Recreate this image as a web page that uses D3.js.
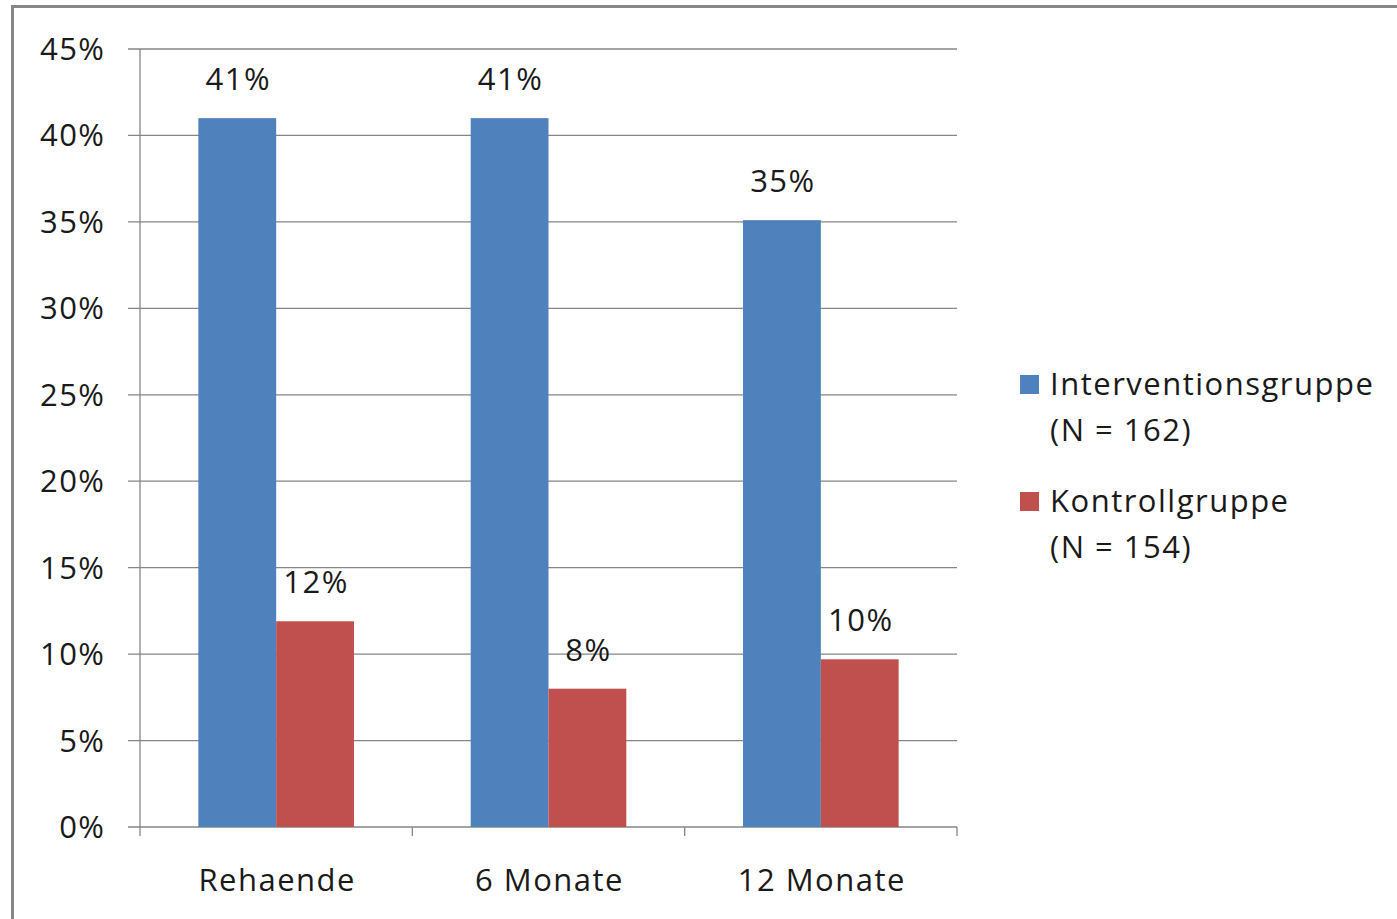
<!DOCTYPE html>
<html><head><meta charset="utf-8">
<script src="https://cdn.jsdelivr.net/npm/d3@7"></script>
<style>
html,body{margin:0;padding:0;background:#fff;}
svg{display:block;}
text{font-family:"Open Sans","Lato",sans-serif;fill:#1a1a1a;letter-spacing:1.5px;}
</style></head><body>
<svg id="chart" width="1397" height="919"></svg>
<script>
const categories = ["Rehaende", "6 Monate", "12 Monate"];
const seriesNames = ["Interventionsgruppe", "Kontrollgruppe"];
const seriesN = ["(N = 162)", "(N = 154)"];
const interventionValues = [41, 41, 35.1];
const kontrollValues = [11.9, 8, 9.7];
const valueLabels = [["41%", "41%", "35%"], ["12%", "8%", "10%"]];
const yTicks = [0, 5, 10, 15, 20, 25, 30, 35, 40, 45];
const colors = ["#4F81BD", "#C0504D"];

const svg = d3.select("#chart");
const fs = 31;
// outer border
svg.append("rect").attr("x", 12.5).attr("y", 6.5).attr("width", 1500).attr("height", 1000)
  .attr("fill", "none").attr("stroke", "#878787").attr("stroke-width", 3);

const x0 = d3.scaleBand().domain(categories).range([140, 957]).paddingInner(0).paddingOuter(0);
const groupW = x0.bandwidth() / 1.75;
const x1 = d3.scaleBand().domain([0, 1]).range([0, groupW]);
const y = d3.scaleLinear().domain([0, 45]).range([827, 49]);

const g = svg.append("g");
// gridlines
g.selectAll("line.grid").data(yTicks).enter().append("line")
  .attr("x1", 128).attr("x2", 957).attr("y1", d => y(d)).attr("y2", d => y(d))
  .attr("stroke", "#868686").attr("stroke-width", 1.3);
// y axis line
g.append("line").attr("x1", 140).attr("x2", 140).attr("y1", y(45)).attr("y2", y(0))
  .attr("stroke", "#868686").attr("stroke-width", 1.3);
// x category ticks
const bounds = categories.map(c => x0(c)).concat([x0.range()[1]]);
g.selectAll("line.xt").data(bounds).enter().append("line")
  .attr("x1", d => d).attr("x2", d => d).attr("y1", y(0)).attr("y2", y(0) + 9)
  .attr("stroke", "#868686").attr("stroke-width", 1.3);
// y labels
g.selectAll("text.yl").data(yTicks).enter().append("text")
  .attr("x", 105.5).attr("y", d => y(d) + 11).attr("text-anchor", "end")
  .attr("font-size", fs).text(d => d + "%");

const series = [interventionValues, kontrollValues];
series.forEach((vals, si) => {
  const bx = c => x0(c) + (x0.bandwidth() - groupW) / 2 + x1(si);
  g.selectAll("rect.s" + si).data(categories).enter().append("rect")
    .attr("x", c => bx(c)).attr("y", (c, i) => y(vals[i]))
    .attr("width", x1.bandwidth()).attr("height", (c, i) => y(0) - y(vals[i]))
    .attr("fill", colors[si]);
  g.selectAll("text.v" + si).data(categories).enter().append("text")
    .attr("x", c => bx(c) + x1.bandwidth() / 2 + 1).attr("y", (c, i) => y(vals[i]) - 28)
    .attr("text-anchor", "middle").attr("font-size", fs).text((c, i) => valueLabels[si][i]);
});
// x labels
g.selectAll("text.xl").data(categories).enter().append("text")
  .attr("x", c => x0(c) + x0.bandwidth() / 2 + 1).attr("y", 891)
  .attr("text-anchor", "middle").attr("font-size", fs).text(c => c);

// legend
const lg = svg.append("g");
seriesNames.forEach((n, i) => {
  const by = 395 + i * 117;
  lg.append("rect").attr("x", 1020).attr("y", by - 20).attr("width", 19).attr("height", 19).attr("fill", colors[i]);
  lg.append("text").attr("x", 1050).attr("y", by).attr("font-size", fs).text(n);
  lg.append("text").attr("x", 1050).attr("y", by + 46).attr("font-size", fs).text(seriesN[i]);
});
</script>
</body></html>
